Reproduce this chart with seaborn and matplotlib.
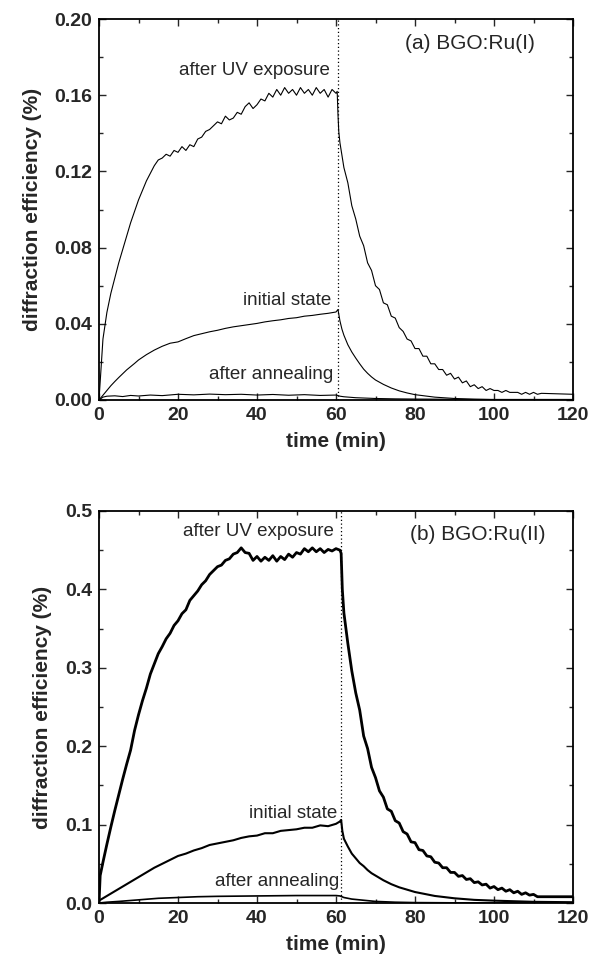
import numpy as np
import pandas as pd
import matplotlib
matplotlib.use("Agg")
import matplotlib.pyplot as plt
from matplotlib.ticker import MultipleLocator, FormatStrFormatter
import seaborn as sns

# ---------------- data: panel (a) BGO:Ru(I) ----------------
a_uv_t = [0, 1, 2, 3, 4, 5, 6, 7, 8, 9, 10, 11, 12, 13, 14, 15, 16, 17, 18, 19,
          20, 21, 22, 23, 24, 25, 26, 27, 28, 29, 30, 31, 32, 33, 34, 35, 36, 37, 38, 39,
          40, 41, 42, 43, 44, 45, 46, 47, 48, 49, 50, 51, 52, 53, 54, 55, 56, 57, 58, 59,
          60, 60.3, 60.5, 60.7, 61, 62, 63, 64, 65, 66, 67, 68, 69, 70, 71, 72, 73, 74, 75,
          76, 77, 78, 79, 80, 81, 82, 83, 84, 85, 86, 87, 88, 89, 90, 91, 92, 93, 94, 95,
          96, 97, 98, 99, 100, 101, 102, 103, 104, 105, 106, 107, 108, 109, 110, 111, 112, 120]
a_uv_v = [0.000, 0.032, 0.046, 0.056, 0.064, 0.072, 0.079, 0.086, 0.093, 0.099, 0.105, 0.110,
          0.115, 0.119, 0.123, 0.126, 0.127, 0.129, 0.128, 0.131, 0.130, 0.133, 0.131, 0.134,
          0.133, 0.137, 0.138, 0.141, 0.142, 0.144, 0.146, 0.145, 0.149, 0.147, 0.148, 0.151,
          0.150, 0.154, 0.156, 0.153, 0.155, 0.158, 0.157, 0.161, 0.159, 0.163, 0.160, 0.164,
          0.161, 0.163, 0.160, 0.164, 0.161, 0.163, 0.160, 0.164, 0.161, 0.163, 0.159, 0.163,
          0.161, 0.162, 0.150, 0.141, 0.135, 0.122, 0.114, 0.102, 0.095, 0.086, 0.081, 0.072,
          0.068, 0.060, 0.058, 0.051, 0.050, 0.044, 0.043, 0.038, 0.036, 0.032, 0.031, 0.027,
          0.027, 0.023, 0.023, 0.019, 0.019, 0.016, 0.016, 0.013, 0.014, 0.011, 0.012, 0.009,
          0.010, 0.007, 0.008, 0.006, 0.007, 0.005, 0.006, 0.005, 0.005, 0.004, 0.005, 0.004,
          0.004, 0.004, 0.003, 0.004, 0.003, 0.004, 0.003, 0.0035, 0.003]

a_init_t = [0, 1, 2, 3, 4, 5, 6, 7, 8, 9, 10, 12, 14, 16, 18, 20, 22, 24, 26, 28, 30, 32, 34,
            36, 38, 40, 42, 44, 46, 48, 50, 52, 54, 56, 58, 60, 60.5, 61, 61.5, 62, 63, 64, 65,
            66, 67, 68, 69, 70, 72, 74, 76, 78, 80, 85, 90, 95, 100, 120]
a_init_v = [0.000, 0.0025, 0.005, 0.0075, 0.0097, 0.0118, 0.0138, 0.0158, 0.0175, 0.0192, 0.021,
            0.0238, 0.0262, 0.0282, 0.0298, 0.0305, 0.0322, 0.0338, 0.0348, 0.0358, 0.0366,
            0.0376, 0.0384, 0.0390, 0.0396, 0.0402, 0.0410, 0.0416, 0.0421, 0.0428, 0.0432,
            0.0440, 0.0444, 0.0450, 0.0455, 0.0462, 0.0475, 0.0415, 0.0372, 0.0340, 0.0290,
            0.0252, 0.0220, 0.0190, 0.0162, 0.0140, 0.0121, 0.0105, 0.0082, 0.0063, 0.0048,
            0.0037, 0.0028, 0.0015, 0.0008, 0.0004, 0.0002, 0.0000]

a_ann_t = [0, 1, 2, 4, 6, 8, 10, 13, 16, 20, 24, 28, 32, 36, 40, 44, 48, 52, 56, 60, 61, 62,
           65, 70, 75, 80, 90, 100, 110, 120]
a_ann_v = [0.000, 0.0015, 0.0020, 0.0022, 0.0018, 0.0024, 0.0021, 0.0026, 0.0023, 0.0030,
           0.0027, 0.0031, 0.0028, 0.0030, 0.0026, 0.0029, 0.0025, 0.0028, 0.0024, 0.0026,
           0.0020, 0.0017, 0.0012, 0.0008, 0.0006, 0.0005, 0.0004, 0.0003, 0.0003, 0.0003]

# ---------------- data: panel (b) BGO:Ru(II) ----------------
b_uv_t = [0, 0.3, 1, 2, 3, 4, 5, 6, 7, 8, 9, 10, 11, 12, 13, 14, 15, 16, 17, 18, 19, 20,
          21, 22, 23, 24, 25, 26, 27, 28, 29, 30, 31, 32, 33, 34, 35, 36, 37, 38, 39, 40,
          41, 42, 43, 44, 45, 46, 47, 48, 49, 50, 51, 52, 53, 54, 55, 56, 57, 58, 59, 60,
          61, 61.3, 61.6, 62, 63, 64, 65, 66, 67, 68, 69, 70, 71, 72, 73, 74, 75, 76, 77,
          78, 79, 80, 81, 82, 83, 84, 85, 86, 87, 88, 89, 90, 91, 92, 93, 94, 95, 96, 97,
          98, 99, 100, 101, 102, 103, 104, 105, 106, 107, 108, 109, 110, 111, 112, 120]
b_uv_v = [0.000, 0.035, 0.052, 0.075, 0.097, 0.118, 0.138, 0.158, 0.177, 0.195, 0.220, 0.240,
          0.258, 0.274, 0.292, 0.305, 0.318, 0.327, 0.337, 0.344, 0.354, 0.360, 0.369, 0.374,
          0.386, 0.392, 0.398, 0.406, 0.411, 0.419, 0.424, 0.429, 0.431, 0.437, 0.439, 0.445,
          0.447, 0.453, 0.447, 0.446, 0.437, 0.442, 0.436, 0.441, 0.437, 0.443, 0.436, 0.442,
          0.438, 0.445, 0.441, 0.447, 0.445, 0.452, 0.448, 0.453, 0.448, 0.452, 0.447, 0.451,
          0.449, 0.452, 0.450, 0.446, 0.400, 0.370, 0.331, 0.296, 0.268, 0.246, 0.213, 0.197,
          0.173, 0.160, 0.143, 0.135, 0.120, 0.117, 0.105, 0.102, 0.091, 0.088, 0.078, 0.077,
          0.068, 0.067, 0.060, 0.059, 0.052, 0.051, 0.045, 0.045, 0.039, 0.039, 0.034, 0.035,
          0.030, 0.031, 0.026, 0.027, 0.023, 0.024, 0.019, 0.021, 0.017, 0.019, 0.015, 0.017,
          0.013, 0.015, 0.011, 0.013, 0.010, 0.011, 0.008, 0.008, 0.008]

b_init_t = [0, 1, 2, 3, 4, 5, 6, 7, 8, 9, 10, 12, 14, 16, 18, 20, 22, 24, 26, 28, 30, 32, 34,
            36, 38, 40, 42, 44, 46, 48, 50, 52, 54, 56, 58, 60, 61, 61.3, 61.6, 62, 63, 64, 65,
            66, 67, 68, 69, 70, 72, 74, 76, 78, 80, 85, 90, 95, 100, 110, 120]
b_init_v = [0.003, 0.006, 0.009, 0.012, 0.015, 0.018, 0.021, 0.024, 0.027, 0.030, 0.033,
            0.039, 0.045, 0.050, 0.055, 0.060, 0.063, 0.067, 0.070, 0.074, 0.076, 0.078,
            0.080, 0.083, 0.085, 0.086, 0.089, 0.089, 0.092, 0.093, 0.094, 0.096, 0.096,
            0.099, 0.098, 0.101, 0.104, 0.106, 0.092, 0.082, 0.072, 0.063, 0.057, 0.051,
            0.047, 0.042, 0.038, 0.035, 0.029, 0.024, 0.020, 0.017, 0.014, 0.009, 0.006,
            0.004, 0.003, 0.0015, 0.001]

b_ann_t = [0, 2, 5, 10, 15, 20, 25, 30, 40, 50, 60, 61, 62, 64, 66, 68, 70, 75, 80, 90, 120]
b_ann_v = [0.000, 0.001, 0.002, 0.004, 0.006, 0.007, 0.008, 0.0085, 0.009, 0.0095, 0.0095,
           0.009, 0.007, 0.005, 0.004, 0.003, 0.002, 0.001, 0.0005, 0.0002, 0.0]

switch_a = 60.5
switch_b = 61.3

panels = [
    dict(series=[(a_uv_t, a_uv_v, 0.8), (a_init_t, a_init_v, 0.8), (a_ann_t, a_ann_v, 0.8)],
         switch=switch_a, ylim=(0, 0.20), major=0.04, minor=0.02, fmt="%.2f",
         title="(a) BGO:Ru(I)", title_xy=(94, 0.187),
         labels=[("after UV exposure", 58.5, 0.173), ("initial state", 58.8, 0.052),
                 ("after annealing", 59.3, 0.0135)]),
    dict(series=[(b_uv_t, b_uv_v, 2.0), (b_init_t, b_init_v, 1.5), (b_ann_t, b_ann_v, 1.2)],
         switch=switch_b, ylim=(0, 0.5), major=0.1, minor=0.05, fmt="%.1f",
         title="(b) BGO:Ru(II)", title_xy=(96, 0.470),
         labels=[("after UV exposure", 59.4, 0.474), ("initial state", 60.3, 0.114),
                 ("after annealing", 60.8, 0.028)]),
]

sns.set_style("ticks")
plt.rcParams['font.family'] = ['Liberation Sans', 'DejaVu Sans']

fig = plt.figure(figsize=(5.99, 9.59), dpi=100)
axes = [fig.add_axes([99 / 599, (959 - 400) / 959, 474 / 599, 381 / 959]),
        fig.add_axes([99 / 599, (959 - 903) / 959, 474 / 599, 392 / 959])]

for ax, p in zip(axes, panels):
    for t, v, lw in p["series"]:
        df = pd.DataFrame({"time": t, "eff": v})
        sns.lineplot(data=df, x="time", y="eff", ax=ax, color="black", linewidth=lw,
                     estimator=None, sort=False)
    ax.axvline(p["switch"], color="black", linestyle=(0, (1, 2)), linewidth=0.9)
    ax.set_xlim(0, 120)
    ax.set_ylim(*p["ylim"])
    ax.xaxis.set_major_locator(MultipleLocator(20))
    ax.xaxis.set_minor_locator(MultipleLocator(10))
    ax.yaxis.set_major_locator(MultipleLocator(p["major"]))
    ax.yaxis.set_minor_locator(MultipleLocator(p["minor"]))
    ax.yaxis.set_major_formatter(FormatStrFormatter(p["fmt"]))
    ax.tick_params(which="both", direction="in", top=True, right=True, width=1.0,
                   labelsize=14, pad=5)
    ax.tick_params(which="major", length=5)
    ax.tick_params(which="minor", length=3)
    for lab in ax.get_xticklabels() + ax.get_yticklabels():
        lab.set_fontweight("bold")
    for s in ax.spines.values():
        s.set_linewidth(1.3)
        s.set_color("black")
    ax.set_xlabel("time (min)", fontsize=15, fontweight="bold", labelpad=6)
    ax.set_ylabel("diffraction efficiency (%)", fontsize=15, fontweight="bold", labelpad=9)
    ax.text(p["title_xy"][0], p["title_xy"][1], p["title"], fontsize=15, ha="center",
            va="center")
    for txt, x, y in p["labels"]:
        ax.text(x, y, txt, fontsize=13.5, ha="right", va="center")

fig.savefig("out.png", dpi=100)
